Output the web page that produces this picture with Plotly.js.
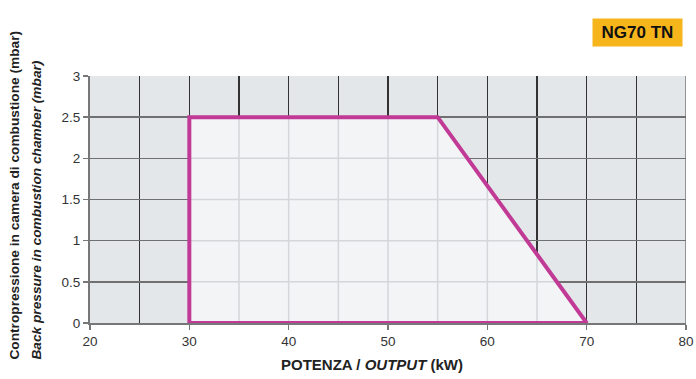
<!DOCTYPE html>
<html>
<head>
<meta charset="utf-8">
<script src="https://cdn.plot.ly/plotly-3.0.1.min.js"></script>
<style>html,body{margin:0;padding:0;background:#fff;}#chart{width:696px;height:379px;}</style>
</head>
<body>
<div id="chart"></div>
<script>
// Working field polygon (kW, mbar)
const polyX = [30, 30, 55, 70, 30];
const polyY = [0, 2.5, 2.5, 0, 0];
const badgeText = 'NG70 TN';
const xTitle = '<b>POTENZA / <i>OUTPUT</i> (kW)</b>';
const yTitle1 = '<b>Contropressione in camera di combustione (mbar)</b>';
const yTitle2 = '<b><i>Back pressure in combustion chamber (mbar)</i></b>';
const xGridVals = [25, 30, 35, 40, 45, 50, 55, 60, 65, 70, 75];
const yGridVals = [0.5, 1, 1.5, 2, 2.5];

function crossV(g) {
  const ys = [];
  for (let i = 0; i < polyX.length - 1; i++) {
    const x1 = polyX[i], x2 = polyX[i+1], y1 = polyY[i], y2 = polyY[i+1];
    if (x1 === x2) continue;
    const lo = Math.min(x1, x2), hi = Math.max(x1, x2);
    if (g >= lo && g <= hi) ys.push(y1 + (y2 - y1) * (g - x1) / (x2 - x1));
  }
  return ys;
}
function crossH(h) {
  const xs = [];
  for (let i = 0; i < polyX.length - 1; i++) {
    const x1 = polyX[i], x2 = polyX[i+1], y1 = polyY[i], y2 = polyY[i+1];
    if (y1 === y2) continue;
    const lo = Math.min(y1, y2), hi = Math.max(y1, y2);
    if (h >= lo && h <= hi) xs.push(x1 + (x2 - x1) * (h - y1) / (y2 - y1));
  }
  return xs;
}

const gx = [], gy = [];
xGridVals.forEach(g => {
  if (g <= Math.min(...polyX) || g >= Math.max(...polyX)) return;
  const ys = crossV(g);
  if (ys.length < 2) return;
  gx.push(g, g, null); gy.push(Math.min(...ys), Math.max(...ys), null);
});
yGridVals.forEach(h => {
  if (h <= Math.min(...polyY) || h >= Math.max(...polyY)) return;
  const xs = crossH(h);
  if (xs.length < 2) return;
  gx.push(Math.min(...xs), Math.max(...xs), null); gy.push(h, h, null);
});

const traces = [
  {x: polyX, y: polyY, type: 'scatter', mode: 'lines', fill: 'toself',
   fillcolor: '#f3f4f6', line: {width: 0, color: 'rgba(0,0,0,0)'}, hoverinfo: 'skip', showlegend: false},
  {x: gx, y: gy, type: 'scatter', mode: 'lines', line: {color: '#d3d7da', width: 1.5},
   hoverinfo: 'skip', showlegend: false, connectgaps: false},
  {x: polyX, y: polyY, type: 'scatter', mode: 'lines', line: {color: '#c03a96', width: 4},
   hoverinfo: 'skip', showlegend: false, cliponaxis: false}
];

const font = 'Liberation Sans, Arial, Helvetica, sans-serif';
const layout = {
  width: 696, height: 379,
  margin: {l: 90, r: 10, t: 76, b: 56},
  paper_bgcolor: '#ffffff',
  plot_bgcolor: '#e4e7ea',
  font: {family: font, size: 13, color: '#222'},
  showlegend: false,
  xaxis: {
    range: [20, 80], dtick: 10, tick0: 20,
    showgrid: true, gridcolor: '#333333', gridwidth: 1.5,
    minor: {dtick: 5, tick0: 20, showgrid: true, gridcolor: '#333333', gridwidth: 1.5},
    showline: true, linecolor: '#777', linewidth: 2, mirror: false,
    ticks: 'outside', ticklen: 5, tickcolor: '#777', tickwidth: 1.5,
    tickfont: {family: font, size: 13.5, color: '#333'},
    zeroline: false, fixedrange: true
  },
  yaxis: {
    range: [0, 3], dtick: 0.5, tick0: 0,
    showgrid: true, gridcolor: '#707070', gridwidth: 1.5,
    showline: true, linecolor: '#777', linewidth: 2,
    ticks: 'outside', ticklen: 5, tickcolor: '#777', tickwidth: 1.5,
    tickfont: {family: font, size: 13.5, color: '#333'},
    zeroline: false, fixedrange: true
  },
  shapes: [
    {type: 'line', xref: 'x', yref: 'y', x0: 80, x1: 80, y0: 0, y1: 3, line: {color: '#777', width: 1.5}, layer: 'below'}
  ],
  annotations: [
    {text: '<b>' + badgeText + '</b>', xref: 'paper', yref: 'paper', x: 0.9186, y: 1.176,
     xanchor: 'center', yanchor: 'middle', showarrow: false,
     font: {family: font, size: 17, color: '#111'},
     bgcolor: '#f7b51c', borderpad: 0, width: 89, height: 27},
    {text: xTitle, xref: 'paper', yref: 'paper', x: 0.473, y: -0.166,
     xanchor: 'center', yanchor: 'middle', showarrow: false,
     font: {family: font, size: 15, color: '#222'}},
    {text: yTitle1, xref: 'paper', yref: 'paper', x: -0.1258, y: -0.158,
     xanchor: 'center', yanchor: 'bottom', textangle: -90, showarrow: false,
     font: {family: font, size: 13.7, color: '#222'}},
    {text: yTitle2, xref: 'paper', yref: 'paper', x: -0.0889, y: -0.158,
     xanchor: 'center', yanchor: 'bottom', textangle: -90, showarrow: false,
     font: {family: font, size: 13.7, color: '#222'}}
  ]
};

Plotly.newPlot('chart', traces, layout, {displayModeBar: false, staticPlot: true});
</script>
</body>
</html>
